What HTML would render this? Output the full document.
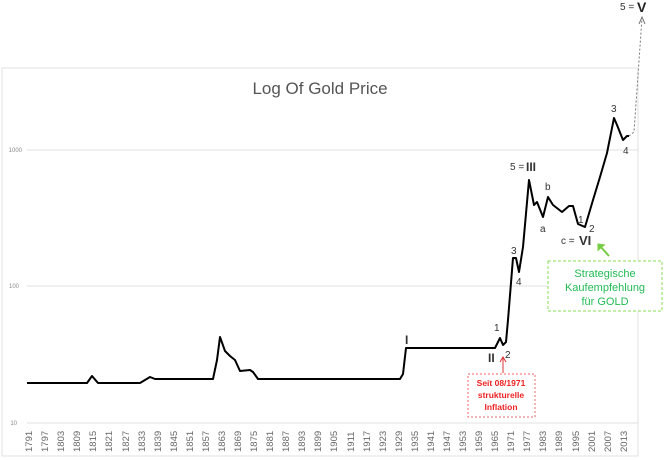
<!DOCTYPE html><html><head><meta charset="utf-8"><style>body{margin:0;background:#fff;}svg{display:block;font-family:"Liberation Sans",sans-serif;}</style></head><body>
<svg width="665" height="460" xmlns="http://www.w3.org/2000/svg">
<rect x="2" y="68" width="636" height="388" fill="none" stroke="#e2e2e2" stroke-width="1"/>
<g stroke="#e0e0e0" stroke-width="1"><line x1="27" y1="150" x2="638" y2="150"/><line x1="27" y1="286" x2="638" y2="286"/><line x1="27" y1="423" x2="638" y2="423"/></g>
<g font-size="6" fill="#888" text-anchor="end"><text x="22" y="152">1000</text><text x="19" y="288">100</text><text x="17" y="425">10</text></g>
<text x="320" y="94" font-size="17" fill="#555" text-anchor="middle">Log Of Gold Price</text>
<g font-size="9" fill="#666" id="xl"></g>
<polyline fill="none" stroke="#000" stroke-width="2" stroke-linejoin="round" points="27,383 87,383 92,376 98,383 140,383 145,380 150,377 155,379 203,379 213,379 217,360 220,337 225,351 230,356 235,360 240,371 250,370 253,372 258,379 400,379 403,374 406,348 495,348 500,338 503,345 506,342 508,320 513,258 516,258 519,272 523,247 529,180 534,205 537,202 543,217 548,197 553,205 562,212 569,206 573,206 578,224 585,227 593,200 600,177 607,153 614,118 617,125 623,140 627,136 629,136"/>
<polyline fill="none" stroke="#777" stroke-width="1" stroke-dasharray="2,2" points="629,136 634,132 642,18"/>
<polyline fill="none" stroke="#777" stroke-width="1" points="639,24 642,17 645,24"/>
<g font-size="10" fill="#333"><text x="620" y="10">5 =</text><text x="637" y="12" font-size="14" font-weight="bold" fill="#222">V</text>
<text x="611" y="112">3</text><text x="623" y="154">4</text>
<text x="510" y="170">5 =</text><text x="526" y="171" font-weight="bold" font-size="12">III</text>
<text x="545" y="190">b</text><text x="540" y="232">a</text><text x="578" y="223">1</text><text x="589" y="232">2</text>
<text x="561" y="244">c =</text><text x="579" y="245" font-weight="bold" font-size="13">VI</text>
<text x="511" y="254">3</text><text x="516" y="285">4</text>
<text x="494" y="331">1</text><text x="505" y="358">2</text>
<text x="405" y="344" font-weight="bold" font-size="12">I</text><text x="488" y="362" font-weight="bold" font-size="12">II</text></g>
<line x1="503" y1="373" x2="503" y2="358" stroke="#d33" stroke-width="1"/><polyline points="500,362 503,357 506,362" fill="none" stroke="#d33"/>
<rect x="468" y="374" width="67" height="43" fill="#fff" stroke="#e66" stroke-dasharray="2,2"/>
<g font-size="8.5" font-weight="bold" fill="#e22" text-anchor="middle"><text x="501" y="386">Seit 08/1971</text><text x="501" y="398">strukturelle</text><text x="501" y="410">Inflation</text></g>
<line x1="609" y1="256" x2="600" y2="246" stroke="#7c4" stroke-width="2"/><polyline points="598,251 598,244 605,245" fill="#7c4" stroke="#7c4"/>
<rect x="548" y="261" width="114" height="50" fill="#fff" stroke="#8d5" stroke-dasharray="3,2"/>
<g font-size="11" fill="#2b5" text-anchor="middle"><text x="605" y="277">Strategische</text><text x="605" y="291">Kaufempfehlung</text><text x="605" y="305">für GOLD</text></g>
<g font-size="9" fill="#666">
<script>/*no*/</script>
</g>
<g font-size="9.5" fill="#666">
<text transform="translate(32,452) rotate(-90)">1791</text><text transform="translate(48,452) rotate(-90)">1797</text><text transform="translate(64,452) rotate(-90)">1803</text><text transform="translate(80,452) rotate(-90)">1809</text><text transform="translate(96,452) rotate(-90)">1815</text><text transform="translate(112,452) rotate(-90)">1821</text><text transform="translate(129,452) rotate(-90)">1827</text><text transform="translate(145,452) rotate(-90)">1833</text><text transform="translate(161,452) rotate(-90)">1839</text><text transform="translate(177,452) rotate(-90)">1845</text><text transform="translate(193,452) rotate(-90)">1851</text><text transform="translate(209,452) rotate(-90)">1857</text><text transform="translate(225,452) rotate(-90)">1863</text><text transform="translate(241,452) rotate(-90)">1869</text><text transform="translate(257,452) rotate(-90)">1875</text><text transform="translate(273,452) rotate(-90)">1881</text><text transform="translate(289,452) rotate(-90)">1887</text><text transform="translate(305,452) rotate(-90)">1893</text><text transform="translate(321,452) rotate(-90)">1899</text><text transform="translate(337,452) rotate(-90)">1905</text><text transform="translate(354,452) rotate(-90)">1911</text><text transform="translate(370,452) rotate(-90)">1917</text><text transform="translate(386,452) rotate(-90)">1923</text><text transform="translate(402,452) rotate(-90)">1929</text><text transform="translate(418,452) rotate(-90)">1935</text><text transform="translate(434,452) rotate(-90)">1941</text><text transform="translate(450,452) rotate(-90)">1947</text><text transform="translate(466,452) rotate(-90)">1953</text><text transform="translate(482,452) rotate(-90)">1959</text><text transform="translate(498,452) rotate(-90)">1965</text><text transform="translate(514,452) rotate(-90)">1971</text><text transform="translate(530,452) rotate(-90)">1977</text><text transform="translate(546,452) rotate(-90)">1983</text><text transform="translate(562,452) rotate(-90)">1989</text><text transform="translate(579,452) rotate(-90)">1995</text><text transform="translate(595,452) rotate(-90)">2001</text><text transform="translate(611,452) rotate(-90)">2007</text><text transform="translate(627,452) rotate(-90)">2013</text>
</g>
</svg></body></html>
